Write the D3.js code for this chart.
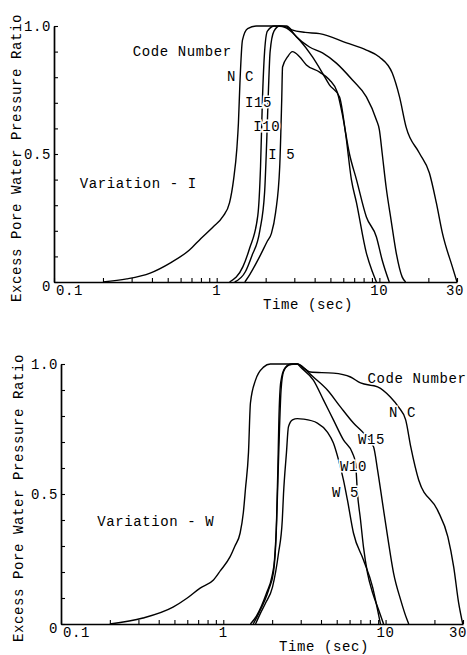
<!DOCTYPE html>
<html><head><meta charset="utf-8">
<script src="https://cdn.jsdelivr.net/npm/d3@7"></script>
<style>
body{margin:0;background:#fff}
svg{display:block}
text{font-family:"Liberation Mono","Courier New",monospace;fill:#000;font-size:14px;letter-spacing:0.6px}
</style>
</head><body><svg id="c" width="467" height="655"></svg>
<script>
// ---------- data ----------
const timeTickValues = [0.1, 1, 10, 30];
const timeTickLabels = ["0.1", "1", "10", "30"];
const ratioTickValues = [0, 0.5, 1.0];
const ratioTickLabels = ["0", "0.5", "1.0"];
const yTitle = "Excess Pore Water Pressure Ratio";
const xTitle = "Time (sec)";

// Variation - I  [time (s), ratio]
const topNC = [[0.2,0],[0.28,0.012],[0.39,0.035],[0.52,0.075],[0.68,0.125],[0.8,0.17],[0.95,0.215],[1.09,0.255],[1.2,0.31],[1.27,0.40],[1.33,0.52],[1.36,0.62],[1.39,0.78],[1.44,0.945],[1.55,0.99],[1.76,1.0],[2.69,1.0],[2.9,0.985],[3.5,0.975],[4.29,0.97],[6.28,0.934],[8.32,0.906],[10,0.879],[12,0.816],[13.3,0.723],[14.6,0.605],[17.6,0.504],[20.3,0.426],[22.4,0.309],[24.4,0.191],[28.1,0.059],[30,0]];
const topI15 = [[1.2,0],[1.45,0.06],[1.59,0.13],[1.79,0.26],[1.86,0.45],[1.91,0.71],[1.97,0.9],[2.05,0.98],[2.27,1.0],[2.6,0.998],[2.8,0.99],[3.1,0.957],[3.72,0.918],[4.47,0.895],[5.44,0.855],[6.83,0.789],[8.32,0.723],[9.59,0.633],[10.0,0.594],[10.4,0.504],[11.0,0.371],[11.8,0.242],[12.7,0.113],[13.8,0.02],[14.5,0]];
const topI10 = [[1.29,0],[1.5,0.04],[1.64,0.10],[1.84,0.2],[1.97,0.35],[2.03,0.55],[2.08,0.75],[2.13,0.9],[2.25,0.98],[2.44,1.0],[2.69,0.992],[3.23,0.945],[3.88,0.879],[4.47,0.816],[4.93,0.77],[5.69,0.723],[6.2,0.58],[6.73,0.40],[7.23,0.31],[8.32,0.113],[9.06,0.04],[9.59,0]];
const topI5 = [[1.49,0],[1.6,0.03],[1.84,0.10],[2.05,0.16],[2.17,0.19],[2.3,0.27],[2.44,0.45],[2.51,0.71],[2.54,0.84],[2.73,0.88],[2.92,0.9],[3.23,0.88],[3.56,0.848],[4.29,0.82],[4.93,0.79],[5.52,0.74],[5.9,0.66],[6.55,0.5],[7.23,0.40],[8.32,0.254],[9.59,0.176],[10.4,0.086],[11.5,0]];

// Variation - W
const botNC = [[0.2,0],[0.32,0.023],[0.49,0.065],[0.6,0.10],[0.72,0.138],[0.87,0.169],[0.96,0.205],[1.10,0.258],[1.18,0.30],[1.27,0.35],[1.33,0.43],[1.37,0.52],[1.43,0.66],[1.47,0.85],[1.58,0.938],[1.77,0.988],[1.95,1.0],[2.86,1.0],[3.44,0.969],[4.77,0.965],[6.08,0.95],[7.01,0.927],[8.93,0.912],[10.7,0.873],[12.0,0.835],[13.3,0.785],[14.3,0.681],[16.0,0.554],[20.9,0.438],[24.2,0.335],[26.3,0.219],[28.2,0.081],[29.9,0]];
const botW15 = [[1.47,0],[1.6,0.03],[1.85,0.12],[1.99,0.18],[2.07,0.25],[2.13,0.40],[2.17,0.60],[2.2,0.78],[2.26,0.93],[2.4,0.985],[2.67,1.0],[2.86,1.0],[3.12,0.985],[3.59,0.95],[4.38,0.90],[5.27,0.835],[6.34,0.773],[7.31,0.735],[8.44,0.681],[8.93,0.592],[9.58,0.465],[10.3,0.335],[11.2,0.196],[12.4,0.092],[13.5,0.02],[13.9,0]];
const botW10 = [[1.53,0],[1.65,0.04],[1.9,0.13],[2.04,0.2],[2.12,0.35],[2.17,0.55],[2.22,0.75],[2.27,0.9],[2.35,0.97],[2.55,0.998],[2.86,1.0],[2.99,0.988],[3.59,0.938],[4.14,0.862],[4.77,0.785],[5.50,0.708],[6.25,0.658],[6.53,0.619],[6.71,0.504],[7.01,0.40],[7.31,0.296],[7.74,0.196],[8.32,0.120],[9.0,0.06],[9.72,0]];
const botW5 = [[1.58,0],[1.69,0.04],[1.82,0.08],[2.01,0.142],[2.19,0.273],[2.31,0.40],[2.35,0.5],[2.45,0.658],[2.52,0.758],[2.67,0.785],[2.86,0.79],[3.12,0.788],[3.80,0.773],[4.38,0.738],[4.77,0.696],[5.13,0.631],[5.50,0.554],[5.82,0.477],[6.34,0.35],[7.31,0.246],[8.32,0.142],[8.93,0.054],[9.3,0]];

// annotation texts with anchor in data space [time, ratio]
const topNotes = [
  {text:"Code Number", at:[0.305,0.883], anchor:"start"},
  {text:"Variation - I", at:[0.144,0.367], anchor:"start"},
  {text:"N C", at:[1.40,0.785], anchor:"middle"},
  {text:"I15", at:[1.81,0.684], anchor:"middle"},
  {text:"I10", at:[2.03,0.59], anchor:"middle"},
  {text:"I 5", at:[2.51,0.48], anchor:"middle"}
];
const botNotes = [
  {text:"Code Number", at:[7.74,0.927], anchor:"start"},
  {text:"Variation - W", at:[0.167,0.377], anchor:"start"},
  {text:"N C", at:[12.7,0.796], anchor:"middle"},
  {text:"W15", at:[8.2,0.692], anchor:"middle"},
  {text:"W10", at:[6.34,0.588], anchor:"middle"},
  {text:"W 5", at:[5.66,0.488], anchor:"middle"}
];

// ---------- layout ----------
const svg = d3.select("#c");
const panels = [
  {x0:54, x1:457, y0:282, y1:26, series:[topNC,topI15,topI10,topI5], notes:topNotes, yTitleX:16, xTitleX:308, lastLabelEnd:464},
  {x0:61, x1:463, y0:624, y1:364, series:[botNC,botW15,botW10,botW5], notes:botNotes, yTitleX:18, xTitleX:324, lastLabelEnd:467}
];

panels.forEach(p => {
  const x = d3.scaleLog().domain([0.1, 30]).range([p.x0, p.x1]);
  const y = d3.scaleLinear().domain([0, 1]).range([p.y0, p.y1]);
  const g = svg.append("g");

  // axes
  const xa = g.append("g").attr("transform", `translate(0,${p.y0})`)
    .call(d3.axisBottom(x).tickValues(x.ticks()).tickSizeInner(-4).tickSizeOuter(0).tickFormat(""));
  const ya = g.append("g").attr("transform", `translate(${p.x0},0)`)
    .call(d3.axisLeft(y).tickValues(d3.range(0, 11).map(d => d / 10)).tickSizeInner(-4).tickSizeOuter(0).tickFormat(""));
  [xa, ya].forEach(a => {
    a.select(".domain").attr("stroke", "#000").attr("stroke-width", 1.7);
    a.selectAll(".tick line").attr("stroke", "#000").attr("stroke-width", 1.1);
  });

  // tick labels
  timeTickValues.forEach((v, i) => {
    const t = g.append("text").attr("y", p.y0 + 13).text(timeTickLabels[i]);
    if (i === 0) t.attr("x", x(v) + 2).attr("text-anchor", "start");
    else if (i === timeTickValues.length - 1) t.attr("x", Math.min(x(v) + 8, p.lastLabelEnd)).attr("text-anchor", "end");
    else t.attr("x", x(v)).attr("text-anchor", "middle");
  });
  ratioTickValues.forEach((v, i) => {
    const dy = v === 0 ? 9 : 5;
    g.append("text").attr("x", p.x0 - 3).attr("y", y(v) + dy).attr("text-anchor", "end").text(ratioTickLabels[i]);
  });

  // titles
  g.append("text").attr("x", p.xTitleX).attr("y", p.y0 + 27).attr("text-anchor", "middle").text(xTitle);
  g.append("text").attr("transform", `translate(${p.yTitleX},${(p.y0 + p.y1) / 2 + 4}) rotate(-90)`)
    .attr("text-anchor", "middle").attr("dy", "0.35em").text(yTitle);

  // curves
  const line = d3.line().x(d => x(d[0])).y(d => y(d[1])).curve(d3.curveMonotoneX);
  g.selectAll("path.curve").data(p.series).enter().append("path")
    .attr("class", "curve").attr("d", line)
    .attr("fill", "none").attr("stroke", "#000").attr("stroke-width", 1.4).attr("stroke-linejoin", "round");

  // notes
  p.notes.forEach(n => {
    g.append("text").attr("x", x(n.at[0])).attr("y", y(n.at[1]))
      .attr("text-anchor", n.anchor)
      .attr("stroke", "#fff").attr("stroke-width", 3).attr("paint-order", "stroke")
      .text(n.text);
  });
});
</script>
</body></html>
